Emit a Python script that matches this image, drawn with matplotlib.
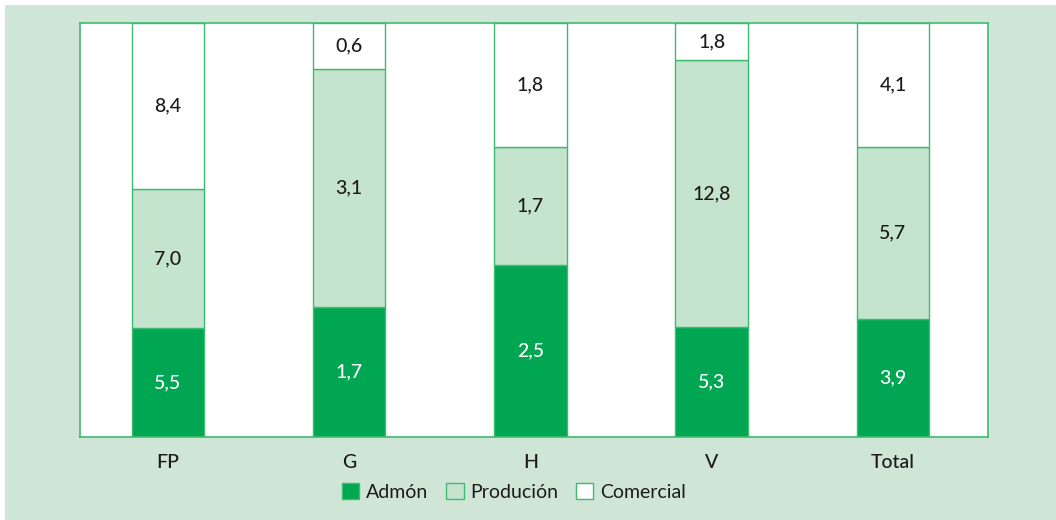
import numpy as np
import matplotlib.pyplot as plt
from matplotlib.patches import Patch

categories = ['FP', 'G', 'H', 'V', 'Total']
admon = [5.5, 1.7, 2.5, 5.3, 3.9]
producion = [7.0, 3.1, 1.7, 12.8, 5.7]
comercial = [8.4, 0.6, 1.8, 1.8, 4.1]
series_names = ['Admón', 'Produción', 'Comercial']

plt.rcParams['font.family'] = ['Lato', 'DejaVu Sans']

bg = '#cfe6d6'
dark_green = '#00a651'
light_green = '#c5e4cd'
edge = '#3dbb6f'
text_col = '#1e1a1b'

fig = plt.figure(figsize=(10.56, 5.2), dpi=100)
fig.patch.set_facecolor('white')
# light green panel behind the chart
fig.patches.append(plt.Rectangle((5 / 1056, 0), 1, 1 - 5 / 520, transform=fig.transFigure,
                                 facecolor=bg, edgecolor='none', zorder=-1))

ax = fig.add_axes([80 / 1056, 1 - 437 / 520, 908 / 1056, 414 / 520])
ax.set_facecolor('white')

x = np.arange(len(categories))
data = np.array([admon, producion, comercial])
totals = data.sum(axis=0)
shares = data / totals * 100

colors = [dark_green, light_green, 'white']
bottom = np.zeros(len(categories))
for i, name in enumerate(series_names):
    ax.bar(x, shares[i], 0.40, bottom=bottom, color=colors[i], edgecolor=edge,
           linewidth=1, label=name, zorder=2)
    for j in range(len(categories)):
        ax.text(x[j], bottom[j] + shares[i][j] / 2, f'{data[i][j]:.1f}'.replace('.', ','),
                ha='center', va='center', fontsize=14, fontweight='medium',
                color='white' if i == 0 else text_col, zorder=3)
    bottom += shares[i]

ax.set_xlim(-0.485, 4.524)
ax.set_ylim(0, 100)
ax.set_yticks([])
ax.set_xticks(x)
ax.set_xticklabels(categories, fontsize=14, fontweight='medium', color=text_col)
ax.tick_params(axis='x', length=0, pad=12)
for s in ax.spines.values():
    s.set_color(edge)
    s.set_linewidth(1.2)

handles = [Patch(facecolor=c, edgecolor=edge, linewidth=1) for c in colors]
fig.legend(handles, series_names, loc='center', bbox_to_anchor=(514 / 1056, 1 - 492 / 520),
           ncol=3, frameon=False, fontsize=14, handlelength=0.9, handleheight=0.9,
           handletextpad=0.35, columnspacing=0.9, labelcolor=text_col)

fig.savefig('out.png', dpi=100, facecolor=fig.get_facecolor())
